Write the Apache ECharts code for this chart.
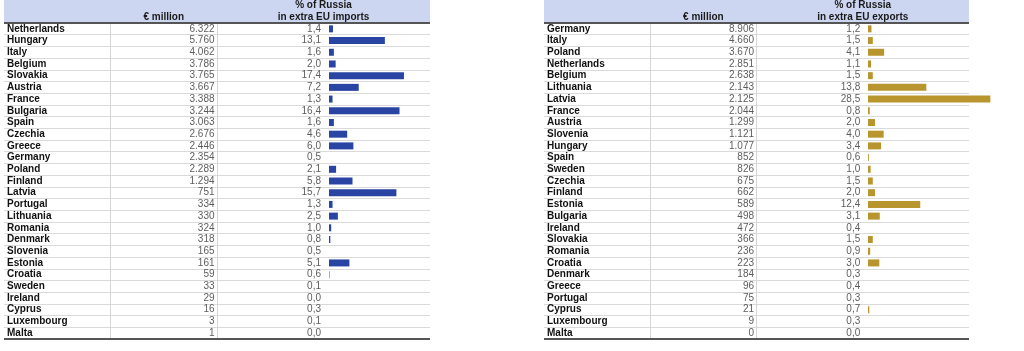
<!DOCTYPE html>
<html>
<head>
<meta charset="utf-8">
<script src="https://cdn.jsdelivr.net/npm/echarts@6/dist/echarts.min.js"></script>
<style>
    html, body { margin: 0; padding: 0; background: #fff; }
    #main { width: 1024px; height: 351px; }
</style>
</head>
<body>
<div id="main"></div>
<script>
'use strict';

// imports from Russia, by member state
var importCountries = ['Netherlands', 'Hungary', 'Italy', 'Belgium', 'Slovakia', 'Austria', 'France', 'Bulgaria', 'Spain',
    'Czechia', 'Greece', 'Germany', 'Poland', 'Finland', 'Latvia', 'Portugal', 'Lithuania', 'Romania', 'Denmark',
    'Slovenia', 'Estonia', 'Croatia', 'Sweden', 'Ireland', 'Cyprus', 'Luxembourg', 'Malta'];
var importMillion = [6322, 5760, 4062, 3786, 3765, 3667, 3388, 3244, 3063, 2676, 2446, 2354, 2289, 1294, 751, 334, 330,
    324, 318, 165, 161, 59, 33, 29, 16, 3, 1];
var importShare = [1.4, 13.1, 1.6, 2.0, 17.4, 7.2, 1.3, 16.4, 1.6, 4.6, 6.0, 0.5, 2.1, 5.8, 15.7, 1.3, 2.5, 1.0, 0.8,
    0.5, 5.1, 0.6, 0.1, 0.0, 0.3, 0.1, 0.0];

// exports to Russia, by member state
var exportCountries = ['Germany', 'Italy', 'Poland', 'Netherlands', 'Belgium', 'Lithuania', 'Latvia', 'France', 'Austria',
    'Slovenia', 'Hungary', 'Spain', 'Sweden', 'Czechia', 'Finland', 'Estonia', 'Bulgaria', 'Ireland', 'Slovakia',
    'Romania', 'Croatia', 'Denmark', 'Greece', 'Portugal', 'Cyprus', 'Luxembourg', 'Malta'];
var exportMillion = [8906, 4660, 3670, 2851, 2638, 2143, 2125, 2044, 1299, 1121, 1077, 852, 826, 675, 662, 589, 498,
    472, 366, 236, 223, 184, 96, 75, 21, 9, 0];
var exportShare = [1.2, 1.5, 4.1, 1.1, 1.5, 13.8, 28.5, 0.8, 2.0, 4.0, 3.4, 0.6, 1.0, 1.5, 2.0, 12.4, 3.1, 0.4, 1.5,
    0.9, 3.0, 0.3, 0.4, 0.3, 0.7, 0.3, 0.0];

var headMillion = '€ million';
var headShare1 = '% of Russia';
var headShareImp = 'in extra EU imports';
var headShareExp = 'in extra EU exports';

var FONT = '"Liberation Sans", Arial, sans-serif';

function fmtMillion(v) {
    return String(v).replace(/\B(?=(\d{3})+(?!\d))/g, '.');
}
function fmtShare(v) {
    return v.toFixed(1).replace('.', ',');
}

// one table = a frame grid (text columns, row lines) + a bar grid
function tableParts(idx, countries, million, share, barColor) {
    var frame = idx * 2, bars = idx * 2 + 1;
    var yFrame = {
        type: 'category', gridIndex: frame, data: countries, inverse: true,
        axisLine: {show: false}, axisTick: {show: false},
        axisLabel: {interval: 0, inside: true, align: 'left', margin: 3, color: '#111', fontWeight: 'bold', fontSize: 10, fontFamily: FONT},
        splitLine: {show: true, interval: 0, lineStyle: {color: '#dadada', width: 1}}
    };
    var yBars = {type: 'category', gridIndex: bars, data: countries, inverse: true, show: false};
    var numLabel = function (arr, fmt, dist) {
        return {
            show: true, position: 'left', distance: dist, color: '#333', fontSize: 10, fontFamily: FONT,
            formatter: function (p) { return fmt(arr[p.dataIndex]); }
        };
    };
    var series = [
        {
            type: 'scatter', xAxisIndex: frame, yAxisIndex: frame, symbolSize: 1,
            itemStyle: {color: 'rgba(0,0,0,0)'},
            data: million.map(function (v, i) { return [2, i]; }),
            label: numLabel(million, fmtMillion, 2),
            markLine: {
                silent: true, symbol: 'none', label: {show: false},
                lineStyle: {color: '#d6d6d6', width: 1, type: 'solid'},
                data: [{xAxis: 1}, {xAxis: 2}]
            }
        },
        {
            type: 'scatter', xAxisIndex: frame, yAxisIndex: frame, symbolSize: 1,
            itemStyle: {color: 'rgba(0,0,0,0)'},
            data: share.map(function (v, i) { return [3, i]; }),
            label: numLabel(share, fmtShare, 2)
        },
        {
            type: 'bar', xAxisIndex: bars, yAxisIndex: bars, data: share, barWidth: 7,
            itemStyle: {color: barColor}
        }
    ];
    return {y: [yFrame, yBars], series: series};
}

var left = tableParts(0, importCountries, importMillion, importShare, '#2a44a4');
var right = tableParts(1, exportCountries, exportMillion, exportShare, '#b8952d');

function header(x0, w, shareText) {
    var colW = w / 4;
    var txt = function (t, cx, cy) {
        return {
            type: 'text', x: cx, y: cy, silent: true,
            style: {text: t, fill: '#1a1a1a', font: 'bold 10px ' + FONT, align: 'center', verticalAlign: 'middle'}
        };
    };
    return [
        {type: 'rect', shape: {x: x0, y: 0, width: w, height: 22}, style: {fill: '#cdd6f0'}, silent: true},
        txt(headMillion, x0 + colW * 1.5, 17),
        txt(headShare1, x0 + colW * 3, 5),
        txt(shareText, x0 + colW * 3, 17),
        {type: 'rect', shape: {x: x0, y: 22, width: w, height: 2}, style: {fill: '#555'}, silent: true, z: 10},
        {type: 'rect', shape: {x: x0, y: 338, width: w, height: 2}, style: {fill: '#555'}, silent: true, z: 10}
    ];
}

var chart = echarts.init(document.getElementById('main'));
chart.setOption({
    animation: false,
    grid: [
        {left: 4, top: 23, width: 426, height: 316},
        {left: 329, top: 23, width: 88.7, height: 316},
        {left: 544, top: 23, width: 425, height: 316},
        {left: 868, top: 23, width: 130.6, height: 316}
    ],
    xAxis: [
        {type: 'value', gridIndex: 0, min: 0, max: 4, show: false},
        {type: 'value', gridIndex: 1, min: 0.5, max: 20.5, show: false},
        {type: 'value', gridIndex: 2, min: 0, max: 4, show: false},
        {type: 'value', gridIndex: 3, min: 0.4, max: 30.4, show: false}
    ],
    yAxis: left.y.concat(right.y),
    series: left.series.concat(right.series),
    graphic: header(4, 426, headShareImp).concat(header(544, 425, headShareExp))
});
</script>
</body>
</html>
